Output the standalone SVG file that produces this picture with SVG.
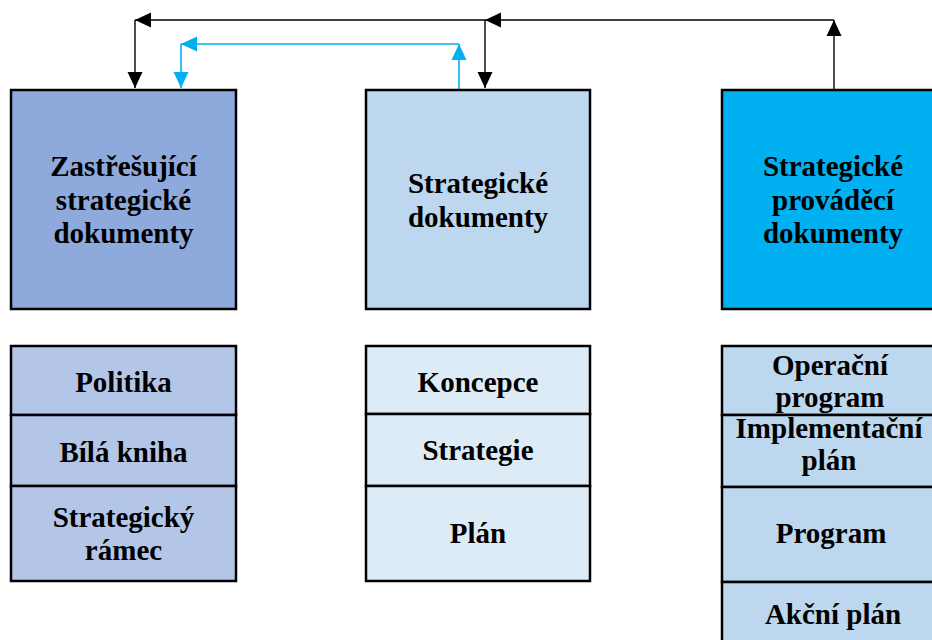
<svg xmlns="http://www.w3.org/2000/svg" width="932" height="640" viewBox="0 0 932 640">
<defs>
<style>
.box{stroke:#000;stroke-width:2.5}
.cell{stroke:#000;stroke-width:2.5}
.t{font-family:"Liberation Serif","Times New Roman",serif;font-weight:bold;font-size:29px;text-anchor:middle;fill:#000}
.blk{fill:none;stroke:#000;stroke-width:1.4}
.blu{fill:none;stroke:#00B0F0;stroke-width:1.6}
</style>
<marker id="ab" viewBox="0 0 16 16" refX="16" refY="8" markerWidth="16" markerHeight="16" markerUnits="userSpaceOnUse" orient="auto"><path d="M0,0.5 L16,8 L0,15.5 z" fill="#000"/></marker>
<marker id="ac" viewBox="0 0 16 16" refX="16" refY="8" markerWidth="16" markerHeight="16" markerUnits="userSpaceOnUse" orient="auto"><path d="M0,0.5 L16,8 L0,15.5 z" fill="#00B0F0"/></marker>
</defs>
<rect width="932" height="640" fill="#fff"/>

<g id="connectors">
<path class="blk" d="M834,89 L834,20" marker-end="url(#ab)"/>
<path class="blk" d="M834,20 L485,20" marker-end="url(#ab)"/>
<path class="blk" d="M485,20 L135,20" marker-end="url(#ab)"/>
<path class="blk" d="M485,20 L485,88" marker-end="url(#ab)"/>
<path class="blk" d="M135,20 L135,88" marker-end="url(#ab)"/>
<path class="blu" d="M459,89 L459,44" marker-end="url(#ac)"/>
<path class="blu" d="M459,44 L181,44" marker-end="url(#ac)"/>
<path class="blu" d="M181,44 L181,88" marker-end="url(#ac)"/>
</g>

<g id="zastresujici">
<rect class="box" x="11" y="90" width="225" height="219" fill="#8EA9DB"/>
<text class="t" x="123.5" y="176">Zastřešující</text>
<text class="t" x="123.5" y="210">strategické</text>
<text class="t" x="123.5" y="243">dokumenty</text>
</g>

<g id="strategicke">
<rect class="box" x="366" y="90" width="224" height="219" fill="#BDD7EE"/>
<text class="t" x="478" y="193">Strategické</text>
<text class="t" x="478" y="227">dokumenty</text>
</g>

<g id="provadeci">
<rect class="box" x="722" y="90" width="222" height="219" fill="#00B0F0"/>
<text class="t" x="833" y="176">Strategické</text>
<text class="t" x="833" y="210">prováděcí</text>
<text class="t" x="833" y="243">dokumenty</text>
</g>

<g id="table-left">
<rect class="cell" x="11" y="346" width="225" height="69" fill="#B4C6E7"/>
<rect class="cell" x="11" y="415" width="225" height="71" fill="#B4C6E7"/>
<rect class="cell" x="11" y="486" width="225" height="95" fill="#B4C6E7"/>
<text class="t" x="123.5" y="392">Politika</text>
<text class="t" x="123.5" y="462">Bílá kniha</text>
<text class="t" x="123.5" y="527">Strategický</text>
<text class="t" x="123.5" y="560">rámec</text>
</g>

<g id="table-middle">
<rect class="cell" x="366" y="346" width="224" height="68" fill="#DDEBF7"/>
<rect class="cell" x="366" y="414" width="224" height="72" fill="#DDEBF7"/>
<rect class="cell" x="366" y="486" width="224" height="95" fill="#DDEBF7"/>
<text class="t" x="478" y="392">Koncepce</text>
<text class="t" x="478" y="460">Strategie</text>
<text class="t" x="478" y="543">Plán</text>
</g>

<g id="table-right">
<rect class="cell" x="722" y="346" width="222" height="69" fill="#BDD7EE"/>
<rect class="cell" x="722" y="415" width="222" height="72" fill="#BDD7EE"/>
<rect class="cell" x="722" y="487" width="222" height="95" fill="#BDD7EE"/>
<rect class="cell" x="722" y="582" width="222" height="80" fill="#BDD7EE"/>
<text class="t" x="830" y="375">Operační</text>
<text class="t" x="830" y="407">program</text>
<text class="t" x="829" y="438">Implementační</text>
<text class="t" x="829" y="470">plán</text>
<text class="t" x="831" y="543">Program</text>
<text class="t" x="833" y="624">Akční plán</text>
</g>
</svg>
